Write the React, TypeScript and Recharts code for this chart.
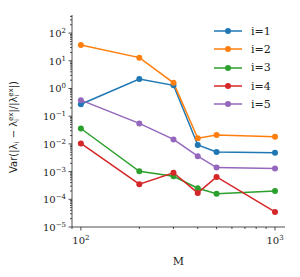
import { LineChart, Line, XAxis, YAxis, Label } from "recharts";

const mValues = [100, 200, 300, 400, 500, 1000];
const err1 = [0.27, 2.2, 1.3, 0.0091, 0.0051, 0.0048];
const err2 = [37, 13, 1.6, 0.016, 0.021, 0.018];
const err3 = [0.036, 0.00102, 0.00068, 0.00025, 0.00016, 0.0002];
const err4 = [0.0104, 0.00035, 0.00091, 0.00017, 0.00064, 0.000035];
const err5 = [0.38, 0.055, 0.0145, 0.0036, 0.0014, 0.0013];

const seriesNames = ["i=1", "i=2", "i=3", "i=4", "i=5"];
const seriesColors = ["#1f77b4", "#ff7f0e", "#2ca02c", "#d62728", "#9467bd"];
const seriesValues = [err1, err2, err3, err4, err5];

const xMajor = [100, 1000];
const yMajor = [1e-5, 1e-4, 1e-3, 1e-2, 1e-1, 1, 10, 100];
const xDomain = [90, 1126];
const yDomain = [1e-5, 450];

const data = mValues.map((m, k) => {
  const row: Record<string, number> = { m };
  seriesNames.forEach((name, s) => {
    row[name] = seriesValues[s][k];
  });
  return row;
});

function minorTicks(lo: number, hi: number) {
  const out: number[] = [];
  for (let e = Math.floor(Math.log10(lo)); e <= Math.ceil(Math.log10(hi)); e++) {
    for (let f = 1; f <= 9; f++) {
      const v = f * Math.pow(10, e);
      if (v >= lo * 0.999 && v <= hi * 1.001) out.push(v);
    }
  }
  return out;
}

const xTicks = minorTicks(xDomain[0], xDomain[1]);
const yTicks = minorTicks(yDomain[0], yDomain[1]);

const near = (list: number[], v: number) => list.some((t) => Math.abs(t - v) / t < 1e-6);

const expText = (v: number) => {
  const e = Math.round(Math.log10(v));
  return e < 0 ? "\u2212" + Math.abs(e) : String(e);
};

const serif = "'DejaVu Serif', serif";
const sans = "'DejaVu Sans', sans-serif";
const ink = "#222";

function XTick(props: any) {
  const { x, y, payload } = props;
  const v = payload.value;
  const major = near(xMajor, v);
  const len = major ? 3.5 : 2;
  return (
    <g>
      <line x1={x} y1={y} x2={x} y2={y + len} stroke={ink} strokeWidth={0.8} />
      {major && (
        <text x={x} y={y + 17} textAnchor="middle" fontFamily={serif} fontSize={10} fill={ink}>
          <tspan>10</tspan>
          <tspan dy={-4} fontSize={7}>{expText(v)}</tspan>
        </text>
      )}
    </g>
  );
}

function YTick(props: any) {
  const { x, y, payload } = props;
  const v = payload.value;
  const major = near(yMajor, v);
  const len = major ? 3.5 : 2;
  return (
    <g>
      <line x1={x} y1={y} x2={x - len} y2={y} stroke={ink} strokeWidth={0.8} />
      {major && (
        <text x={x - 6} y={y + 4} textAnchor="end" fontFamily={serif} fontSize={10} fill={ink}>
          <tspan>10</tspan>
          <tspan dy={-4} fontSize={7}>{expText(v)}</tspan>
        </text>
      )}
    </g>
  );
}

function YLabel() {
  return (
    <text
      transform="translate(17, 127) rotate(-90)"
      textAnchor="middle"
      fontFamily={sans}
      fontSize={10}
      fill={ink}
    >
      <tspan>Var(|λ</tspan>
      <tspan fontSize={7} dy={2}>i</tspan>
      <tspan dy={-2}>{" \u2212 λ"}</tspan>
      <tspan fontSize={7} dy={2}>i</tspan>
      <tspan fontSize={7} dx={-2} dy={-6}>ex</tspan>
      <tspan dy={4}>|/|λ</tspan>
      <tspan fontSize={7} dy={2}>i</tspan>
      <tspan fontSize={7} dx={-2} dy={-6}>ex</tspan>
      <tspan dy={4}>|)</tspan>
    </text>
  );
}

function LegendBox() {
  return (
    <div
      style={{
        position: "absolute",
        left: 213,
        top: 22,
        fontFamily: serif,
        fontSize: 11,
        color: ink,
      }}
    >
      {seriesNames.map((name, s) => (
        <div key={name} style={{ display: "flex", alignItems: "center", height: 18.3 }}>
          <svg width={30} height={10}>
            <line x1={1} y1={5} x2={29} y2={5} stroke={seriesColors[s]} strokeWidth={1.5} />
            <circle cx={15} cy={5} r={3} fill={seriesColors[s]} />
          </svg>
          <span style={{ marginLeft: 8 }}>{name}</span>
        </div>
      ))}
    </div>
  );
}

export default function App() {
  return (
    <div style={{ position: "relative", width: 300, height: 277 }}>
      <style>{`body{margin:0}`}</style>
      <LineChart
        width={300}
        height={277}
        data={data}
        margin={{ top: 15, right: 15, bottom: 0, left: 0 }}
      >
        <XAxis
          dataKey="m"
          type="number"
          scale="log"
          domain={xDomain}
          allowDataOverflow
          ticks={xTicks}
          interval={0}
          tick={<XTick />}
          tickLine={false}
          tickSize={0}
          tickMargin={0}
          axisLine={{ stroke: ink, strokeWidth: 0.8 }}
          height={50}
        >
          <Label
            value="M"
            position="insideBottom"
            offset={12}
            style={{ fontFamily: serif, fontSize: 11, fill: ink }}
          />
        </XAxis>
        <XAxis
          xAxisId="top"
          orientation="top"
          type="number"
          domain={[0, 1]}
          height={0}
          tick={false}
          tickLine={false}
          axisLine={{ stroke: ink, strokeWidth: 0.8 }}
        />
        <YAxis
          type="number"
          scale="log"
          domain={yDomain}
          allowDataOverflow
          ticks={yTicks}
          interval={0}
          tick={<YTick />}
          tickLine={false}
          tickSize={0}
          tickMargin={0}
          axisLine={{ stroke: ink, strokeWidth: 0.8 }}
          width={72}
        >
          <Label content={<YLabel />} />
        </YAxis>
        <YAxis
          yAxisId="right"
          orientation="right"
          type="number"
          domain={[0, 1]}
          width={0}
          tick={false}
          tickLine={false}
          axisLine={{ stroke: ink, strokeWidth: 0.8 }}
        />
        {seriesNames.map((name, s) => (
          <Line
            key={name}
            dataKey={name}
            stroke={seriesColors[s]}
            strokeWidth={1.5}
            dot={{ r: 3, fill: seriesColors[s], stroke: seriesColors[s], strokeWidth: 0 }}
            activeDot={false}
            isAnimationActive={false}
          />
        ))}
      </LineChart>
      <LegendBox />
    </div>
  );
}
